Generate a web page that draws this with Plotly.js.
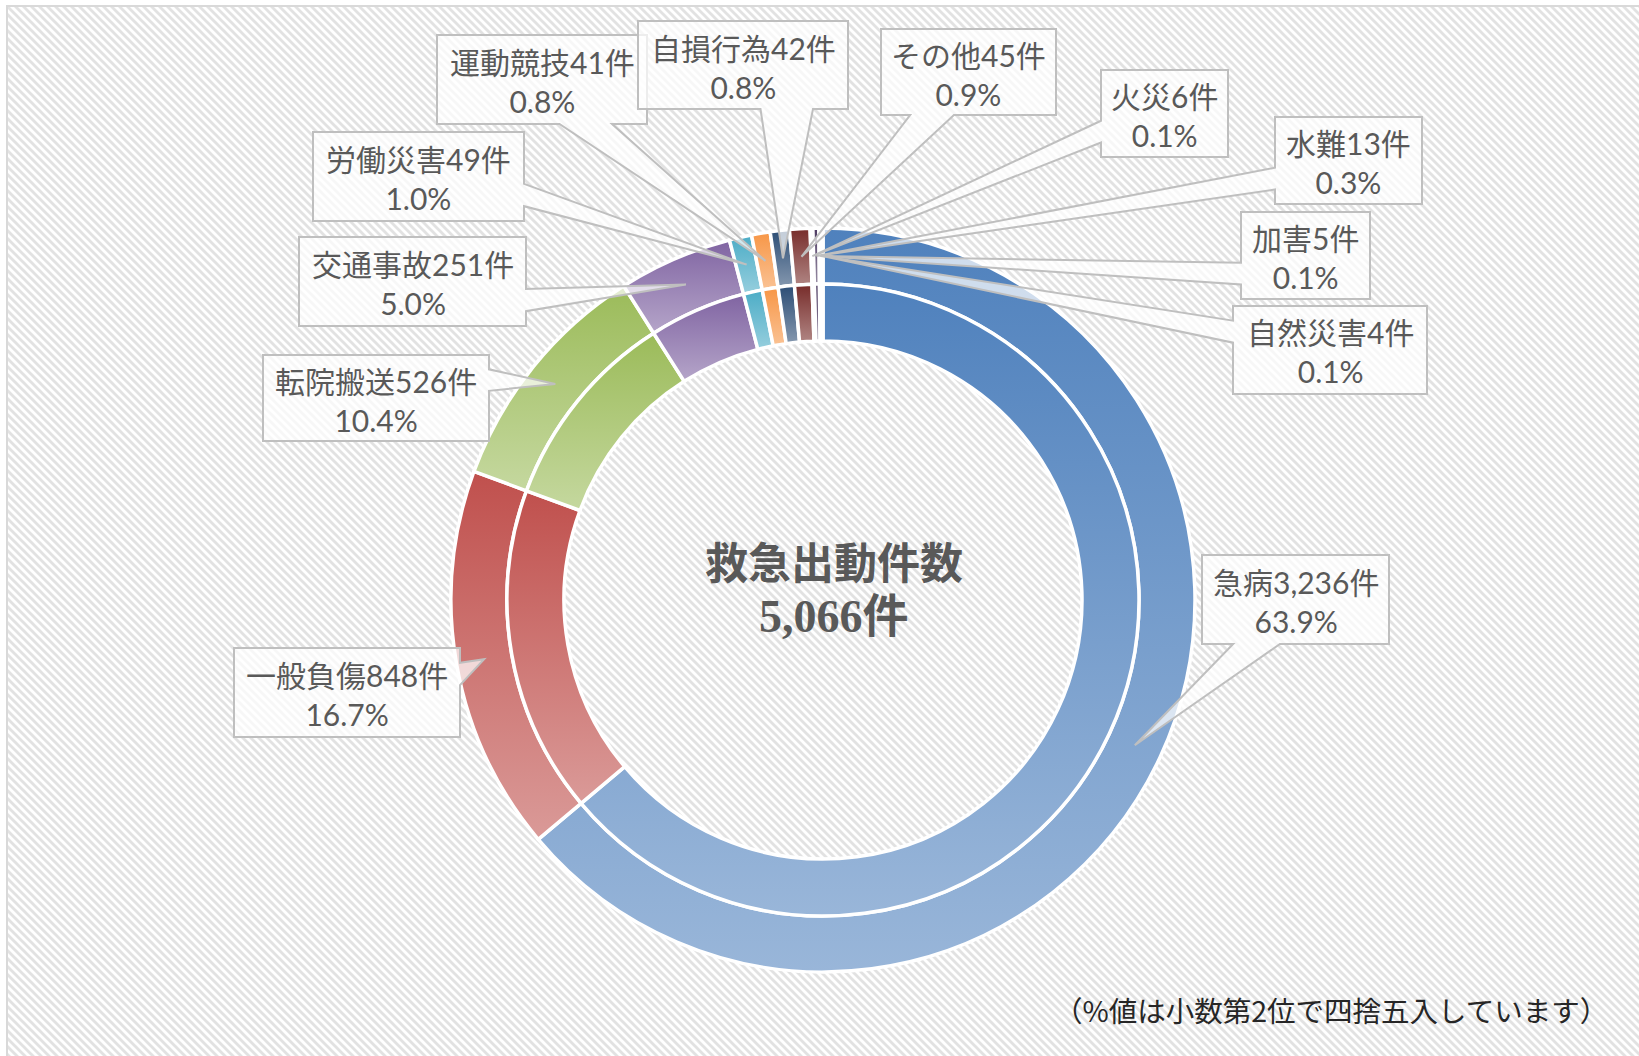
<!DOCTYPE html>
<html><head><meta charset="utf-8">
<script src="https://cdn.plot.ly/plotly-3.0.1.min.js"></script>
<style>
html,body{margin:0;padding:0;background:#fff;overflow:hidden;}
#frame{position:absolute;left:6px;top:5px;width:1650px;height:1070px;border-left:2px solid #d9d9d9;border-top:2px solid #d9d9d9;
background-color:#ffffff;
background-image:url("data:image/svg+xml,%3Csvg xmlns='http://www.w3.org/2000/svg' width='8' height='8'%3E%3Cpath d='M0,0 L2,0 L8,6 L8,8 L6,8 L0,2 Z M6,0 L8,0 L8,2 Z M0,6 L2,8 L0,8 Z' fill='%23e2e2e2'/%3E%3C/svg%3E");
background-size:8px 8px;}
#chart{position:absolute;left:0;top:0;width:1639px;height:1056px;}
</style></head>
<body><div id="frame"></div><div id="chart"></div>
<script>
// ---- data ----
const categories = ['急病','一般負傷','転院搬送','交通事故','労働災害','運動競技','自損行為','その他','火災','水難','加害','自然災害'];
const counts = [3236,848,526,251,49,41,42,45,6,13,5,4];
const percentLabels = ['63.9%','16.7%','10.4%','5.0%','1.0%','0.8%','0.8%','0.9%','0.1%','0.3%','0.1%','0.1%'];
const centerTitle = '救急出動件数';
const totalLabel = '5,066件';
const footnote = '（%値は小数第2位で四捨五入しています）';

// ---- styles / layout constants ----
const sliceColors = ['#4F81BD','#C0504D','#9BBB59','#8064A2','#4BACC6','#F79646','#2C4D75','#772C2A','#5F7530','#4D3B62','#276A7D','#B65708'];
const W = 1639, H = 1056;
const CX = 823, CY = 600, R_OUT = 372, R_MID = 316, R_HOLE = 259;
// callout boxes in pixels [left, top, right, bottom]
const boxes = [
  [1202,555,1389,644],
  [234,648,460,737],
  [263,355,489,441],
  [299,237,526,326],
  [313,132,524,221],
  [437,35,647,124],
  [638,21,848,109],
  [881,29,1056,115],
  [1101,70,1228,157],
  [1275,117,1422,204],
  [1241,212,1370,299],
  [1233,306,1427,394]
];

const px = x => x / W;
const py = y => 1 - y / H;
function dom(r){ return {x:[px(CX-r), px(CX+r)], y:[py(CY+r), py(CY-r)]}; }

const common = {
  type:'pie', values:counts, labels:categories, sort:false, direction:'clockwise', rotation:0,
  textinfo:'none', hoverinfo:'none', showlegend:false,
  marker:{colors:sliceColors, line:{color:'#ffffff', width:3.5}}
};
const outer = Object.assign({}, common, {hole:R_MID/R_OUT, domain:dom(R_OUT)});
const inner = Object.assign({}, common, {hole:R_HOLE/R_MID, domain:dom(R_MID)});

// callouts
const total = counts.reduce((a,b)=>a+b,0);
const tipR = (R_OUT + R_MID) / 2;
const shapes = [];
const annotations = [];
let cum = 0;
counts.forEach((v,i)=>{
  const mid = (cum + v/2) / total * 2 * Math.PI; cum += v;
  const tx = CX + tipR*Math.sin(mid), ty = CY - tipR*Math.cos(mid);
  const [l,t,r,b] = boxes[i];
  const w = r-l, h = b-t, bx = (l+r)/2, by = (t+b)/2;
  const dxn = (tx-bx)/w, dyn = (ty-by)/h;
  let pts;
  if (Math.abs(dxn) > Math.abs(dyn)) {
    const y1 = ty > by ? t + h*7/12 : t + h*2/12;
    const y2 = ty > by ? t + h*10/12 : t + h*5/12;
    if (dxn > 0) pts = [[l,t],[r,t],[r,y1],[tx,ty],[r,y2],[r,b],[l,b]];
    else pts = [[l,t],[r,t],[r,b],[l,b],[l,y2],[tx,ty],[l,y1]];
  } else {
    const x1 = tx > bx ? l + w*7/12 : l + w*2/12;
    const x2 = tx > bx ? l + w*10/12 : l + w*5/12;
    if (dyn > 0) pts = [[l,t],[r,t],[r,b],[x2,b],[tx,ty],[x1,b],[l,b]];
    else pts = [[l,t],[x1,t],[tx,ty],[x2,t],[r,t],[r,b],[l,b]];
  }
  const path = pts.map((p,k)=>(k?'L':'M')+px(p[0]).toFixed(5)+','+py(p[1]).toFixed(5)).join(' ')+' Z';
  shapes.push({type:'path', xref:'paper', yref:'paper', path:path, layer:'above',
    fillcolor:'rgba(255,255,255,0.72)', line:{color:'#bfbfbf', width:2}});
  annotations.push({xref:'paper', yref:'paper', x:px(bx), y:py(by+2), xanchor:'center', yanchor:'middle',
    showarrow:false, align:'center',
    text: categories[i] + counts[i].toLocaleString('en-US') + '件<br>' + percentLabels[i],
    font:{family:"Lato, 'Noto Sans CJK JP', sans-serif", size:30, color:'#595959'}});
});

annotations.push({xref:'paper', yref:'paper', x:px(834), y:py(560), xanchor:'center', yanchor:'middle', showarrow:false,
  text:'<b>'+centerTitle+'</b>', font:{family:"'Noto Sans CJK JP', sans-serif", size:43, color:'#595959'}});
annotations.push({xref:'paper', yref:'paper', x:px(834), y:py(616), xanchor:'center', yanchor:'middle', showarrow:false,
  text:'<b>'+totalLabel+'</b>', font:{family:"'Liberation Serif', 'Noto Sans CJK JP', serif", size:46, color:'#595959'}});
annotations.push({xref:'paper', yref:'paper', x:px(1610), y:py(1009), xanchor:'right', yanchor:'middle', showarrow:false,
  text:footnote, font:{family:"'Noto Sans CJK JP', sans-serif", size:28.5, color:'#262626'}});

const layout = {width:W, height:H, margin:{l:0,r:0,t:0,b:0}, paper_bgcolor:'rgba(0,0,0,0)', plot_bgcolor:'rgba(0,0,0,0)',
  showlegend:false, shapes:shapes, annotations:annotations};

function tint(rgb, f){ return rgb.map(c=>Math.round(c+(255-c)*f)); }
Plotly.newPlot('chart', [outer, inner], layout, {staticPlot:true}).then(gd=>{
  const svg = gd.querySelector('.main-svg');
  let defs = svg.querySelector('defs');
  const NS = 'http://www.w3.org/2000/svg';
  gd.querySelectorAll('g.slice path.surface').forEach((p,k)=>{
    const m = (p.style.fill||'').match(/(\d+),\s*(\d+),\s*(\d+)/);
    if(!m) return;
    const base = [+m[1],+m[2],+m[3]];
    const light = tint(base, 0.42);
    const g = document.createElementNS(NS,'linearGradient');
    const id = 'sg'+k;
    g.setAttribute('id', id); g.setAttribute('x1','0'); g.setAttribute('y1','0'); g.setAttribute('x2','0'); g.setAttribute('y2','1');
    [[0,base],[1,light]].forEach(([o,c])=>{
      const s = document.createElementNS(NS,'stop');
      s.setAttribute('offset', o); s.setAttribute('stop-color','rgb('+c.join(',')+')');
      g.appendChild(s);
    });
    defs.appendChild(g);
    p.style.fill = 'url(#'+id+')';
  });
});
</script>
</body></html>
